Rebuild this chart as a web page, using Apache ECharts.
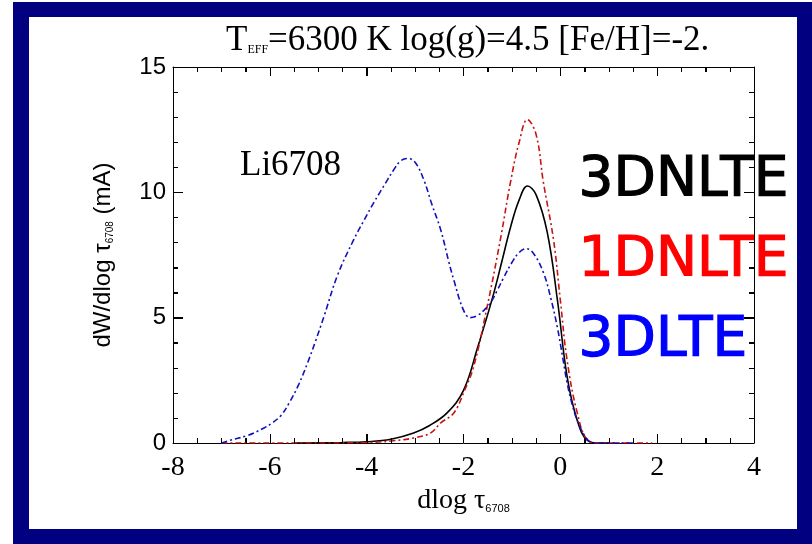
<!DOCTYPE html>
<html>
<head>
<meta charset="utf-8">
<script src="https://cdn.jsdelivr.net/npm/echarts@6/dist/echarts.min.js"></script>
</head>
<body style="margin:0;background:#fff">
<div id="chart" style="width:812px;height:544px"></div>
<script>
// ---- data ----
const x3DNLTE = [-5.5,-4.5,-4.0,-3.5,-3.03,-2.7,-2.34,-2.0,-1.71,-1.4,-1.2,-1.03,-0.85,-0.68,-0.5,-0.27,-0.06,0.14,0.35,0.56,0.8,1.0];
const y3DNLTE = [0.0,0.02,0.05,0.15,0.4,0.7,1.2,2.1,3.8,5.8,7.3,8.6,9.7,10.25,9.9,8.4,5.7,2.65,0.9,0.1,0.0,0.0];

const x1DNLTE = [-7.0,-5.0,-4.0,-3.5,-3.03,-2.68,-2.47,-2.2,-2.0,-1.79,-1.51,-1.24,-1.03,-0.85,-0.68,-0.5,-0.35,-0.14,0.0,0.14,0.35,0.56,0.8,1.9];
const y1DNLTE = [0.0,0.0,0.02,0.08,0.2,0.4,0.8,1.2,2.0,3.05,5.45,8.1,10.4,12.0,12.9,12.3,10.4,8.1,5.7,3.3,1.2,0.12,0.0,0.0];

const x3DLTE = [-7.0,-6.8,-6.46,-6.12,-5.95,-5.77,-5.6,-5.4,-5.22,-5.05,-4.89,-4.6,-4.27,-4.05,-3.85,-3.6,-3.44,-3.3,-3.15,-3.0,-2.82,-2.65,-2.47,-2.3,-2.2,-2.0,-1.86,-1.7,-1.55,-1.44,-1.3,-1.17,-1.0,-0.85,-0.7,-0.55,-0.35,-0.2,-0.06,0.05,0.14,0.25,0.35,0.5,0.62,0.8,1.5];
const y3DLTE = [0.0,0.12,0.3,0.6,0.8,1.1,1.6,2.35,3.2,4.1,5.0,6.7,8.1,8.9,9.6,10.4,10.9,11.25,11.35,11.2,10.5,9.5,8.5,7.2,6.5,5.3,5.0,5.1,5.35,5.6,6.1,6.6,7.2,7.6,7.75,7.55,6.8,5.8,4.6,3.4,2.4,1.5,0.9,0.3,0.05,0.0,0.0];

const xTicks = [-8,-6,-4,-2,0,2,4];
const yTicks = [0,5,10,15];
const xMinorSplit = 4;
const yMinorSplit = 5;
const seriesNames = ['3DNLTE','1DNLTE','3DLTE'];

function pairs(xs, ys){ return xs.map((x,i)=>[x, ys[i]]); }

// tick marks (value, isMajor, kind: 0 = x-axis tick, 1 = y-axis tick) derived from tick labels
function tickItems(ticks, split, kind){
  const out = [];
  for (let i = 0; i < ticks.length; i++) {
    out.push([ticks[i], 1, kind]);
    if (i < ticks.length - 1) {
      const step = (ticks[i+1] - ticks[i]) / split;
      for (let k = 1; k < split; k++) out.push([ticks[i] + k*step, 0, kind]);
    }
  }
  return out;
}
const tickData = tickItems(xTicks, xMinorSplit, 0).concat(tickItems(yTicks, yMinorSplit, 1));

const chart = echarts.init(document.getElementById('chart'), null, {renderer:'canvas'});
const ls = {color:'#000', width:1};
const serif = 'Liberation Serif';
const sans = 'Liberation Sans';
const xMin = xTicks[0], xMax = xTicks[xTicks.length-1];
const yMin = yTicks[0], yMax = yTicks[yTicks.length-1];

function renderTick(params, api){
  const v = api.value(0), major = api.value(1), kind = api.value(2);
  const st = {stroke:'#000', lineWidth:1};
  if (kind === 0) {
    const len = major ? 9 : 5;
    const b = api.coord([v, yMin]), t = api.coord([v, yMax]);
    const x = Math.round(b[0]) + 0.5;
    return {type:'group', children:[
      {type:'line', shape:{x1:x, y1:b[1], x2:x, y2:b[1]-len}, style:st},
      {type:'line', shape:{x1:x, y1:t[1], x2:x, y2:t[1]+len}, style:st}
    ]};
  } else {
    const len = major ? 10 : 5;
    const l = api.coord([xMin, v]), r = api.coord([xMax, v]);
    const y = Math.round(l[1]) + 0.5;
    return {type:'group', children:[
      {type:'line', shape:{x1:l[0], y1:y, x2:l[0]+len, y2:y}, style:st},
      {type:'line', shape:{x1:r[0], y1:y, x2:r[0]-len, y2:y}, style:st}
    ]};
  }
}

const option = {
  animation: false,
  backgroundColor: '#fff',
  title: {
    text: '{t|T}{s|EFF}{t|=6300 K log(g)=4.5 [Fe/H]=-2.}',
    left: 221, top: 17,
    textStyle: {
      fontWeight: 'normal',
      rich: {
        t: {fontFamily: serif, fontSize: 35, fontWeight:'normal', color:'#000', lineHeight: 36, verticalAlign:'bottom'},
        s: {fontFamily: serif, fontSize: 12, fontWeight:'normal', color:'#000', lineHeight: 36, verticalAlign:'bottom', padding:[0,0,2,0]}
      }
    }
  },
  grid: {left: 173, right: 58, top: 67, bottom: 101, containLabel:false},
  xAxis: [{
    type:'value', min:xMin, max:xMax, interval:2, position:'bottom',
    axisLine:{show:true, onZero:false, lineStyle:ls},
    axisTick:{show:true, inside:true, length:9, lineStyle:ls},
    minorTick:{show:true, splitNumber:xMinorSplit, length:5, lineStyle:ls},
    splitLine:{show:false},
    axisLabel:{fontFamily:serif, fontSize:28, color:'#000', margin:11},
    name:'{a|dlog }{a|τ}{c|6708}', nameLocation:'middle', nameGap:36,
    nameTextStyle:{rich:{
      a:{fontFamily:serif, fontSize:28, color:'#000', lineHeight:30, verticalAlign:'bottom'},
      c:{fontFamily:sans, fontSize:11, color:'#000', lineHeight:30, verticalAlign:'bottom'}
    }}
  },{
    type:'value', min:xMin, max:xMax, interval:2, position:'top',
    axisLine:{show:true, onZero:false, lineStyle:ls},
    axisTick:{show:true, inside:true, length:9, lineStyle:ls},
    minorTick:{show:true, splitNumber:xMinorSplit, length:5, lineStyle:ls},
    splitLine:{show:false}, axisLabel:{show:false}
  }],
  yAxis: [{
    type:'value', min:yMin, max:yMax, interval:5, position:'left',
    axisLine:{show:true, onZero:false, lineStyle:ls},
    axisTick:{show:true, inside:true, length:10, lineStyle:ls},
    minorTick:{show:true, splitNumber:yMinorSplit, length:5, lineStyle:ls},
    splitLine:{show:false},
    axisLabel:{fontFamily:sans, fontSize:24, color:'#000', margin:7},
    name:'{a|dW/dlog τ}{c|6708}{a| (mA)}', nameLocation:'middle', nameGap:58, nameRotate:90,
    nameTextStyle:{rich:{
      a:{fontFamily:sans, fontSize:24, color:'#000', lineHeight:26, verticalAlign:'bottom'},
      c:{fontFamily:sans, fontSize:10, color:'#000', lineHeight:26, verticalAlign:'bottom'}
    }}
  },{
    type:'value', min:yMin, max:yMax, interval:5, position:'right',
    axisLine:{show:true, onZero:false, lineStyle:ls},
    axisTick:{show:true, inside:true, length:10, lineStyle:ls},
    minorTick:{show:true, splitNumber:yMinorSplit, length:5, lineStyle:ls},
    splitLine:{show:false}, axisLabel:{show:false}
  }],
  graphic: [
    {type:'rect', z:-100, silent:true, shape:{x:13, y:2, width:799, height:542}, style:{fill:'#000080'}},
    {type:'rect', z:-99, silent:true, shape:{x:29, y:17, width:768, height:512}, style:{fill:'#ffffff'}},
    {type:'text', left:240, top:148, style:{text:'Li6708', font:'35px "Liberation Serif"', fill:'#000'}},
    {type:'text', left:578, top:153, style:{text:seriesNames[0], font:'55px "DejaVu Sans"', fill:'#000', stroke:'#000', lineWidth:1.2}},
    {type:'text', left:578, top:233, style:{text:seriesNames[1], font:'55px "DejaVu Sans"', fill:'#ff0000', stroke:'#ff0000', lineWidth:1.2}},
    {type:'text', left:578, top:313, style:{text:seriesNames[2], font:'55px "DejaVu Sans"', fill:'#0000ff', stroke:'#0000ff', lineWidth:1.2}}
  ],
  series: [
    {name:'ticks', type:'custom', xAxisIndex:0, yAxisIndex:0, data:tickData, renderItem:renderTick,
     encode:{x:0, y:1}, clip:false, silent:true, z:5},
    {name:seriesNames[0], type:'line', xAxisIndex:0, yAxisIndex:0, data:pairs(x3DNLTE,y3DNLTE), smooth:0.4, showSymbol:false, symbol:'none',
     lineStyle:{color:'#000', width:1.6, type:'solid'}},
    {name:seriesNames[1], type:'line', xAxisIndex:0, yAxisIndex:0, data:pairs(x1DNLTE,y1DNLTE), smooth:0.4, showSymbol:false, symbol:'none',
     lineStyle:{color:'#cc1111', width:1.6, type:[6,3,2,3]}},
    {name:seriesNames[2], type:'line', xAxisIndex:0, yAxisIndex:0, data:pairs(x3DLTE,y3DLTE), smooth:0.4, showSymbol:false, symbol:'none',
     lineStyle:{color:'#1111bb', width:1.6, type:[6,3,2,3]}}
  ]
};
chart.setOption(option);
</script>
</body>
</html>
